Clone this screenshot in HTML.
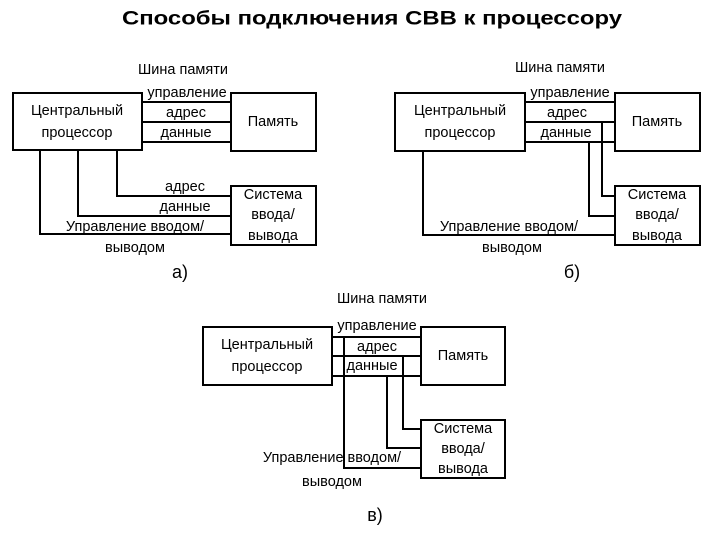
<!DOCTYPE html>
<html><head><meta charset="utf-8"><style>
html,body{margin:0;padding:0;background:#fff;}
svg{display:block;}
text{font-family:"Liberation Sans",sans-serif;font-size:14.5px;fill:#000;dominant-baseline:central;text-anchor:middle;}
.t{font-weight:bold;font-size:19px;}
.s{font-size:18px;}
</style></head><body>
<svg width="720" height="540" viewBox="0 0 720 540" xmlns="http://www.w3.org/2000/svg">
<rect width="720" height="540" fill="#fff"/>
<text class="t" x="372" y="19" textLength="500" lengthAdjust="spacingAndGlyphs">Способы подключения СВВ к процессору</text>
<g fill="none" stroke="#000" stroke-width="2">
<!-- a -->
<rect x="13" y="93" width="129" height="57"/>
<rect x="231" y="93" width="85" height="58"/>
<rect x="231" y="186" width="85" height="59"/>
<path d="M142 102H231M142 122H231M142 142H231"/>
<path d="M117 150V196H231M78 150V216H231M40 150V234H231"/>
<!-- b -->
<rect x="395" y="93" width="130" height="58"/>
<rect x="615" y="93" width="85" height="58"/>
<rect x="615" y="186" width="85" height="59"/>
<path d="M525 102H615M525 122H615M525 142H615"/>
<path d="M602 122V196H615M589 142V216H615M423 151V235H615"/>
<!-- c -->
<rect x="203" y="327" width="129" height="58"/>
<rect x="421" y="327" width="84" height="58"/>
<rect x="421" y="420" width="84" height="58"/>
<path d="M332 337H421M332 356H421M332 376H421"/>
<path d="M344 337V468H421M403 356V429H421M387 376V448H421"/>
</g>
<!-- a labels -->
<text x="183" y="70">Шина памяти</text>
<text x="187" y="93">управление</text>
<text x="186" y="113">адрес</text>
<text x="186" y="133">данные</text>
<text x="77" y="111">Центральный</text>
<text x="77" y="133">процессор</text>
<text x="273" y="122">Память</text>
<text x="273" y="195">Система</text>
<text x="273" y="215">ввода/</text>
<text x="273" y="236">вывода</text>
<text x="185" y="187">адрес</text>
<text x="185" y="207">данные</text>
<text x="135" y="227">Управление вводом/</text>
<text x="135" y="248">выводом</text>
<text class="s" x="180" y="272">а)</text>
<!-- b labels -->
<text x="560" y="68">Шина памяти</text>
<text x="570" y="93">управление</text>
<text x="567" y="113">адрес</text>
<text x="566" y="133">данные</text>
<text x="460" y="111">Центральный</text>
<text x="460" y="133">процессор</text>
<text x="657" y="122">Память</text>
<text x="657" y="195">Система</text>
<text x="657" y="215">ввода/</text>
<text x="657" y="236">вывода</text>
<text x="509" y="227">Управление вводом/</text>
<text x="512" y="248">выводом</text>
<text class="s" x="572" y="272">б)</text>
<!-- c labels -->
<text x="382" y="299">Шина памяти</text>
<text x="377" y="326">управление</text>
<text x="377" y="347">адрес</text>
<text x="372" y="366">данные</text>
<text x="267" y="345">Центральный</text>
<text x="267" y="367">процессор</text>
<text x="463" y="356">Память</text>
<text x="463" y="429">Система</text>
<text x="463" y="449">ввода/</text>
<text x="463" y="469">вывода</text>
<text x="332" y="458">Управление вводом/</text>
<text x="332" y="482">выводом</text>
<text class="s" x="375" y="515">в)</text>
</svg>
</body></html>
